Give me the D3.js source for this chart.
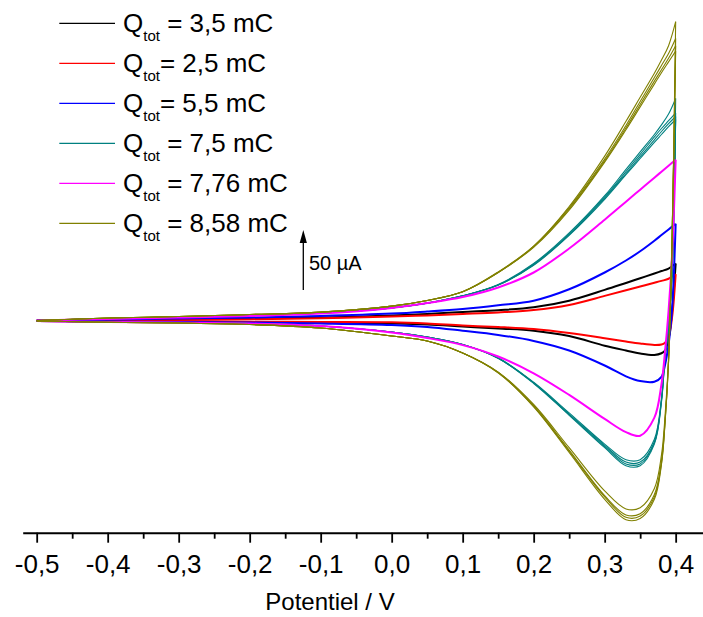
<!DOCTYPE html>
<html>
<head>
<meta charset="utf-8">
<script src="https://cdn.jsdelivr.net/npm/d3@7"></script>
<style>
  html, body { margin: 0; padding: 0; background: #fff; }
  svg { display: block; }
  text { font-family: "Liberation Sans", Arial, Helvetica, sans-serif; }
</style>
</head>
<body>
<svg id="chart" width="703" height="617"></svg>
<script>
// ---------- DATA (potential in V, current in µA) ----------
const upE   = [-0.5,-0.4,-0.3,-0.2,-0.1,0,0.05,0.1,0.15,0.2,0.25,0.3,0.33,0.35,0.37,0.38,0.39,0.4];
const downE = [-0.5,-0.4,-0.3,-0.2,-0.1,0,0.05,0.1,0.15,0.2,0.25,0.3,0.33,0.35,0.37,0.38,0.385,0.39,0.395,0.4];

const blackUp   = [0,0.4,0.8,1.7,2.5,4.2,5.4,7.1,8.6,11,16.5,25.5,31.3,35.2,39.2,41.2,43.3,47.5];
const blackDown = [-0.4,-0.7,-0.9,-1.3,-1.7,-2.5,-3.3,-5,-6.7,-8.5,-13,-21,-25,-27.5,-28.7,-27.3,-25,-15,8,47.5];
const redUp     = [0,0.25,0.6,1.1,1.8,3.3,4.2,5.4,6.7,8.7,13,20.5,25.2,28.3,31.4,33,34.8,38.7];
const redDown   = [-0.4,-0.6,-0.75,-1,-1.25,-1.5,-2.5,-4.2,-5.4,-7.1,-10.4,-14.7,-17.5,-19.2,-20.4,-20,-18.5,-14,3,38.7];
const blueUp    = [0,0.8,1.7,2.5,3.8,5.8,7.5,9.6,12.7,16.5,26,40,50,57.7,66.5,71.2,75.9,80.6];
const blueDown  = [-0.4,-0.8,-1.3,-1.7,-2.5,-3.8,-5.4,-8.5,-12,-17,-25,-37.5,-46.5,-50.5,-51,-47,-37,-20,10,80.6];
const magentaUp   = [0,1.3,2.5,3.8,5.8,10.5,14.5,19.5,27.5,40,60,84,99,109,119,124,129,134];
const magentaDown = [-0.4,-1.3,-1.7,-2.5,-4.6,-10,-14.6,-20.5,-30,-44,-62,-82,-93,-96,-81,-53,-26,8,55,134];

const tealUp1 = [0,1.7,2.9,4.2,6.2,10.5,14.5,20.5,30,47.5,73,104,126,140.5,155,163,172,185];
const tealUp2 = [0,1.7,2.9,4.2,6.2,10.5,14.5,20.5,29.5,46,71,101,121.5,135,148.5,155,161.5,167.5];
const tealUp3 = [0,1.7,2.9,4.2,6.2,10.5,14.5,20.5,29.5,46.5,71.5,102,122.5,136.5,150.5,157.5,164,170];
const tealUp4 = [0,1.7,2.9,4.2,6.2,10.5,14.5,20.5,29.5,47,72,103,124,138.5,153,160,166.5,173];
const tealDown1 = [-0.4,-1.3,-1.7,-2.5,-4.6,-9.6,-13.8,-20,-31,-51.5,-77,-103,-116,-116,-99,-65,-30,-5,40,185];
const tealDown2 = [-0.4,-1.3,-1.7,-2.5,-4.6,-9.6,-13.8,-20,-31.5,-52,-78,-104,-118,-118,-101,-66,-30,-5,40,167.5];
const tealDown3 = [-0.4,-1.3,-1.7,-2.5,-4.6,-9.6,-13.8,-20,-31.5,-52,-78.5,-105,-119.5,-119.5,-102,-67,-31,-5,40,170];
const tealDown4 = [-0.4,-1.3,-1.7,-2.5,-4.6,-9.6,-13.8,-20,-31.5,-52.5,-79,-106,-121,-121,-103,-68,-31,-5,40,173];

const oliveUp1 = [0,2.1,3.3,5,7,12,16.7,24,40.5,62,95,137,166,186,206,217,229,249];
const oliveUp2 = [0,2.1,3.3,5,7,12,16.7,24,40,61,92,132,159,178,197,206.5,215.5,224.5];
const oliveUp3 = [0,2.1,3.3,5,7,12,16.7,24,40,61.5,93,133,160.5,180,199.5,209,218.5,229];
const oliveUp4 = [0,2.1,3.3,5,7,12,16.7,24,40,62,94,134.5,162.5,182.5,202.5,212.5,222.5,235];
const oliveDown1 = [-0.4,-1.5,-2.1,-3.3,-6.3,-12.9,-17.1,-27,-43,-70,-106,-142,-157,-156,-140,-112,-80,-31,70,249];
const oliveDown2 = [-0.4,-1.5,-2.1,-3.3,-6.3,-12.9,-17.1,-27,-43,-71,-108,-146,-162,-161,-145,-117,-84,-33,70,224.5];
const oliveDown3 = [-0.4,-1.5,-2.1,-3.3,-6.3,-12.9,-17.1,-27,-43.5,-71.5,-109,-147,-164,-163,-147,-119,-85,-34,70,229];
const oliveDown4 = [-0.4,-1.5,-2.1,-3.3,-6.3,-12.9,-17.1,-27,-43.5,-72,-110,-149,-166,-165,-149,-120,-86,-34,70,235];

const legendCharges = [" = 3,5 mC", "= 2,5 mC", "= 5,5 mC", " = 7,5 mC", " = 7,76 mC", " = 8,58 mC"];
const seriesColors  = ["#000000", "#ff0000", "#0000ff", "#008080", "#ff00ff", "#808000"];
const majorTicks = [-0.5,-0.4,-0.3,-0.2,-0.1,0,0.1,0.2,0.3,0.4];
const minorTicks = [-0.45,-0.35,-0.25,-0.15,-0.05,0.05,0.15,0.25,0.35];
const xTitle = "Potentiel / V";
const scaleBarValue = 50;
const scaleBarLabel = "50 µA";

// ---------- series (cycles) built from the arrays ----------
const series = [
  { color: seriesColors[0], width: 2,   cycles: [[blackUp, blackDown]] },
  { color: seriesColors[1], width: 2,   cycles: [[redUp, redDown]] },
  { color: seriesColors[2], width: 2,   cycles: [[blueUp, blueDown]] },
  { color: seriesColors[3], width: 1.1, cycles: [[tealUp1, tealDown1],[tealUp2, tealDown2],[tealUp3, tealDown3],[tealUp4, tealDown4]] },
  { color: seriesColors[4], width: 2,   cycles: [[magentaUp, magentaDown]] },
  { color: seriesColors[5], width: 1.1, cycles: [[oliveUp1, oliveDown1],[oliveUp2, oliveDown2],[oliveUp3, oliveDown3],[oliveUp4, oliveDown4]] }
];

// ---------- layout ----------
const svg = d3.select("#chart");
svg.append("rect").attr("width", 703).attr("height", 617).attr("fill", "#fff");

const axisY = 532.7;
const x = d3.scaleLinear().domain([-0.5197, 0.4385]).range([22.7, 703]);
const y = d3.scaleLinear().domain([-180, 260]).range([536.5, 8.5]);

const line = d3.line().x(d => x(d[0])).y(d => y(d[1])).curve(d3.curveCatmullRom.alpha(0.5));

const plot = svg.append("g");
series.forEach(s => {
  s.cycles.forEach(([up, down]) => {
    const upPts = upE.map((e, i) => [e, up[i]]);
    const downPts = downE.map((e, i) => [e, down[i]]);
    plot.append("path").attr("d", line(upPts))
      .attr("fill", "none").attr("stroke", s.color).attr("stroke-width", s.width)
      .attr("stroke-linejoin", "round");
    plot.append("path").attr("d", line(downPts))
      .attr("fill", "none").attr("stroke", s.color).attr("stroke-width", s.width)
      .attr("stroke-linejoin", "round");
  });
});

// ---------- x axis ----------
const fmt = d => d3.format(".1f")(d).replace("\u2212", "-").replace(".", ",");
const gMinor = svg.append("g").attr("transform", `translate(0,${axisY})`)
  .call(d3.axisBottom(x).tickValues(minorTicks).tickSize(6).tickSizeOuter(0).tickFormat(""));
gMinor.select(".domain").remove();
gMinor.selectAll(".tick line").attr("stroke", "#000").attr("stroke-width", 1.8);

const gx = svg.append("g").attr("transform", `translate(0,${axisY})`)
  .call(d3.axisBottom(x).tickValues(majorTicks).tickSize(10).tickSizeOuter(0).tickFormat(fmt));
gx.select(".domain").attr("stroke", "#000").attr("stroke-width", 2);
gx.selectAll(".tick line").attr("stroke", "#000").attr("stroke-width", 1.8);
gx.selectAll(".tick text")
  .attr("y", 40).attr("dy", 0)
  .attr("fill", "#000")
  .style("font-size", "26px")
  .style("font-family", "'Liberation Sans', Arial, sans-serif");

svg.append("text")
  .attr("x", 330).attr("y", 610)
  .attr("text-anchor", "middle")
  .style("font-size", "24px")
  .attr("fill", "#000")
  .text(xTitle);

// ---------- legend ----------
const legend = svg.append("g");
legendCharges.forEach((lab, i) => {
  const ly = 23.3 + i * 40;
  legend.append("line")
    .attr("x1", 59.3).attr("x2", 115).attr("y1", ly).attr("y2", ly)
    .attr("stroke", seriesColors[i]).attr("stroke-width", 1.2);
  const t = legend.append("text")
    .attr("x", 123).attr("y", ly + 9)
    .style("font-size", "26px").attr("fill", "#000");
  t.append("tspan").text("Q");
  t.append("tspan").attr("dy", 8.4).style("font-size", "15px").text("tot");
  t.append("tspan").attr("dy", -8.4).style("font-size", "26px").text(lab);
});

// ---------- scale bar ----------
const barX = 303.3, barBottom = 290;
const barTop = barBottom - (y(0) - y(scaleBarValue));
svg.append("line")
  .attr("x1", barX).attr("x2", barX)
  .attr("y1", barBottom).attr("y2", barTop + 10)
  .attr("stroke", "#000").attr("stroke-width", 1.3);
svg.append("path")
  .attr("d", `M${barX},${barTop} L${barX - 3.6},${barTop + 13} L${barX + 3.6},${barTop + 13} Z`)
  .attr("fill", "#000");
svg.append("text")
  .attr("x", 309).attr("y", 270)
  .style("font-size", "20px").attr("fill", "#000")
  .text(scaleBarLabel);
</script>
</body>
</html>
